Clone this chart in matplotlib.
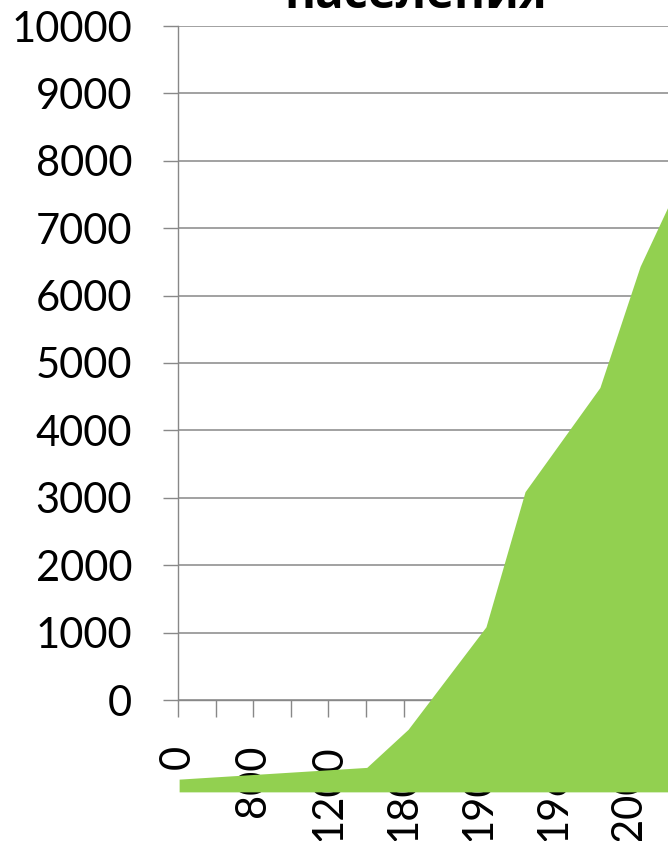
import matplotlib
matplotlib.use("Agg")
import matplotlib.pyplot as plt

# ---- data ----
title = "населения"
categories = ['0', '400', '800', '1000', '1200', '1500', '1800', '1850',
              '1900', '1930', '1960', '1980', '2000', '2010']
y_ticks = [0, 1000, 2000, 3000, 4000, 5000, 6000, 7000, 8000, 9000, 10000]
# green area (overlay shape), positions in category units, values in millions
area_pos = [0.03, 5.02, 6.12, 8.19, 9.23, 11.22, 12.29, 13.1]
area_top = [-1174, -1000, -435, 1085, 3091, 4636, 6434, 7400]
area_base = -1363

W, H = 668, 841
fig = plt.figure(figsize=(W / 100, H / 100), dpi=100)
fig.patch.set_facecolor('white')

step = 37.6
x0, y0, ytop = 178, 700, 26
ax = fig.add_axes([x0 / W, (H - y0) / H, 14 * step / W, (y0 - ytop) / H])
ax.set_xlim(0, 14)
ax.set_ylim(0, 10000)

grey = '#888888'
font = ['Lato', 'DejaVu Sans']

ax.set_yticks(y_ticks)
ax.set_yticklabels([str(v) for v in y_ticks], fontsize=30, family=font)
ax.set_xticks(range(len(categories)))
ax.set_xticklabels([c if i % 2 == 0 else '' for i, c in enumerate(categories)],
                   rotation=90, fontsize=30, family=font, ha='center', va='top')

ax.tick_params(axis='y', length=11, width=1, color=grey, pad=22, labelcolor='black')
ax.tick_params(axis='x', length=12, width=1, color=grey, pad=20, labelcolor='black')

ax.grid(axis='y', color=grey, linewidth=1.1)
ax.set_axisbelow(True)
for s in ['top', 'right']:
    ax.spines[s].set_visible(False)
for s in ['left', 'bottom']:
    ax.spines[s].set_color(grey)
    ax.spines[s].set_linewidth(1)

ax.fill_between(area_pos, area_top, area_base, color='#92D050', linewidth=0,
                clip_on=False, zorder=5)

# title, cut at the top edge as in the reference
t = fig.text(416 / W, 1 - 7.5 / H, title, ha='center', va='baseline',
             fontweight='bold', family=['Open Sans', 'DejaVu Sans'], fontsize=30)
fig.canvas.draw()
w = t.get_window_extent().width
t.set_fontsize(30 * 263 / w)

fig.savefig('out.png', dpi=100, facecolor='white')
